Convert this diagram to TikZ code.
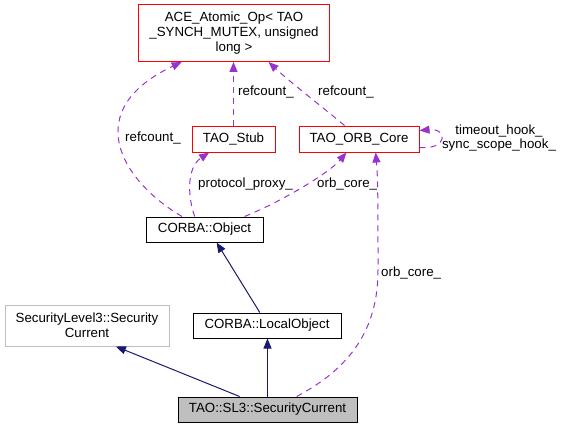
\documentclass[tikz,border=0pt]{standalone}
\usepackage{fontspec}
\setmainfont{Liberation Sans}
\usetikzlibrary{arrows.meta}

\definecolor{edgeblue}{HTML}{191970}
\definecolor{edgepurple}{HTML}{9A32CD}
\definecolor{boxgrey}{HTML}{BFBFBF}
\definecolor{boxred}{HTML}{FF0000}

\begin{document}
\begin{tikzpicture}[x=1pt,y=-1pt,
    font=\fontsize{13.3}{15}\selectfont,
    cls/.style={draw,line width=1pt,inner sep=0pt,align=center},
    redcls/.style={cls,draw=boxred},
    tip/.style={-{Triangle[length=10pt,width=8pt]}},
    inherit/.style={tip,draw=edgeblue,line width=1pt},
    uses/.style={tip,draw=edgepurple,line width=1pt,dash pattern=on 6pt off 5pt},
    lbl/.style={inner sep=0pt,anchor=west}]
    \useasboundingbox (0,0) rectangle (562,428);
        \node [redcls,minimum width=191pt,minimum height=57pt] (ace) at (234,33)
            {ACE\_Atomic\_Op< TAO\\\_SYNCH\_MUTEX, unsigned\\long >};
        \node [redcls,minimum width=83pt,minimum height=26pt] (stub) at (233.5,139) {TAO\_Stub};
        \node [redcls,minimum width=120pt,minimum height=26pt] (orb) at (359,139) {TAO\_ORB\_Core};
        \node [cls,minimum width=117pt,minimum height=25pt] (obj) at (204.5,229.5) {CORBA::Object};
        \node [cls,minimum width=148pt,minimum height=25pt] (local) at (267,325.5) {CORBA::LocalObject};
        \node [cls,draw=boxgrey,minimum width=164pt,minimum height=41pt] (sl3) at (87,325.5)
            {SecurityLevel3::Security\\Current};
        \node [cls,fill=boxgrey,minimum width=179pt,minimum height=25pt] (cur) at (267.5,409.5)
            {TAO::SL3::SecurityCurrent};
        % inheritance
        \draw [inherit] (cur.155) -- (sl3.-36);
        \draw [inherit] (cur.north) -- (cur.north |- local.south);
        \draw [inherit] (local.119) -- (obj.-47);
        % usage
        \draw [uses] (obj.150) .. controls (120,180) and (80,110) .. (ace.-151);
        \draw [uses] (stub.north) -- (stub.north |- ace.south);
        \draw [uses] (obj.127) .. controls (188,198) and (186,168) .. (stub.-151);
        \draw [uses] (obj.18) .. controls (285,200) and (330,172) .. (orb.-133);
        \draw [uses] (orb.137) .. controls (320,105) and (290,82) .. (ace.-40);
        \draw [uses] (orb.-8) .. controls (448,150) and (448,128) .. (orb.8);
        \draw [uses] (cur.24) .. controls (350,368) and (378,330) .. (378,270)
            .. controls (378,210) and (378,180) .. (orb.-39);
        % labels
        \node [lbl] (l1) at (125,138) {refcount\_};
        \node [lbl] (l2) at (238,92) {refcount\_};
        \node [lbl] (l3) at (318,92) {refcount\_};
        \node [lbl] (l4) at (198,184) {protocol\_proxy\_};
        \node [lbl] (l5) at (317,184) {orb\_core\_};
        \node [lbl] (l6) at (381,273) {orb\_core\_};
        \node [inner sep=0pt,align=center,font=\fontsize{13.3}{14}\selectfont] (l7) at (499,138)
            {timeout\_hook\_\\sync\_scope\_hook\_};
    \end{tikzpicture}
\end{document}
